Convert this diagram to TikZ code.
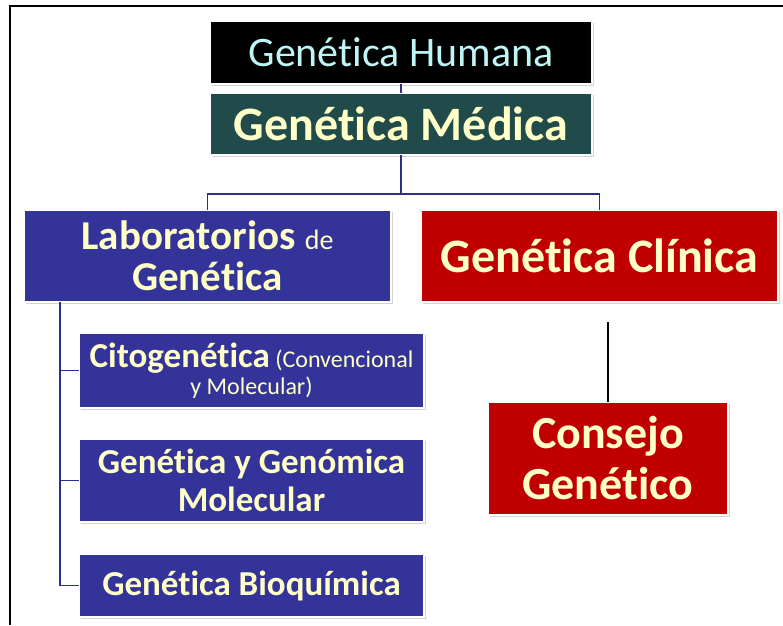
\documentclass[tikz,border=0pt]{standalone}
\usepackage{fontspec}
\setmainfont[RawFeature={-liga}]{Carlito}
\usetikzlibrary{shadows,calc}
\definecolor{bluebox}{RGB}{51,51,153}
\definecolor{redbox}{RGB}{192,0,0}
\definecolor{tealbox}{RGB}{33,74,74}
\definecolor{ytext}{RGB}{255,255,200}
\definecolor{ctext}{RGB}{190,245,245}
\definecolor{linkblue}{RGB}{46,46,140}
\tikzset{
  box/.style={rectangle, draw=white, line width=1.5pt, inner sep=0pt, outer sep=0pt,
    align=center, text=ytext,
    drop shadow={opacity=0.35, shadow xshift=1.5pt, shadow yshift=-1.5pt}},
  link/.style={draw=linkblue, line width=1.6pt},
}
\begin{document}
\begin{tikzpicture}[x=1pt,y=-1pt]
\useasboundingbox (0,0) rectangle (783,625);
\draw[line width=2pt] (10,625) -- (10,6) -- (783,6);
\node[box, fill=black, text=ctext, font=\fontsize{42}{44}\selectfont, minimum width=382pt, minimum height=63pt] (hum) at (401,52.5) {Genética Humana};
\node[box, fill=tealbox, font=\fontsize{48}{50}\selectfont\bfseries, minimum width=382pt, minimum height=62pt] (med) at (401,124) {Genética Médica};
\node[box, fill=bluebox, font=\fontsize{41}{41}\selectfont\bfseries, minimum width=367pt, minimum height=92pt] (lab) at (207.5,256) {Laboratorios {\fontsize{28}{28}\selectfont\mdseries de}\\Genética};
\node[box, fill=redbox, font=\fontsize{48}{50}\selectfont\bfseries, minimum width=357pt, minimum height=92pt] (cli) at (599.5,256) {Genética Clínica};
\node[box, fill=bluebox, font=\fontsize{24}{27}\selectfont, minimum width=345pt, minimum height=75pt] (cito) at (251.5,370.5) {{\fontsize{35}{35}\selectfont\bfseries Citogenética} (Convencional\\y Molecular)};
\node[box, fill=bluebox, font=\fontsize{35}{38}\selectfont\bfseries, minimum width=345pt, minimum height=83pt] (gyg) at (251.5,480.5) {Genética y Genómica\\Molecular};
\node[box, fill=bluebox, font=\fontsize{35}{38}\selectfont\bfseries, minimum width=345pt, minimum height=63pt] (bioq) at (251.5,585.5) {Genética Bioquímica};
\node[box, fill=redbox, font=\fontsize{46}{51}\selectfont\bfseries, minimum width=240pt, minimum height=113pt] (con) at (608,458.5) {Consejo\\Genético};
\draw[link] (hum.south) -- (med.north);
\draw[link] (med.south) -- ++(0,39) -| (lab.north);
\draw[link] (med.south) -- ++(0,39) -| (cli.north);
\coordinate (trunk) at ($(lab.south west)+(36,0)$);
\draw[link] (trunk) |- (cito.west);
\draw[link] (trunk) |- (gyg.west);
\draw[link] (trunk) |- (bioq.west);
\coordinate (ctop) at ($(con.north)+(0,-80)$);
\draw[line width=2pt] (con.north) -- (ctop);
\end{tikzpicture}
\end{document}
